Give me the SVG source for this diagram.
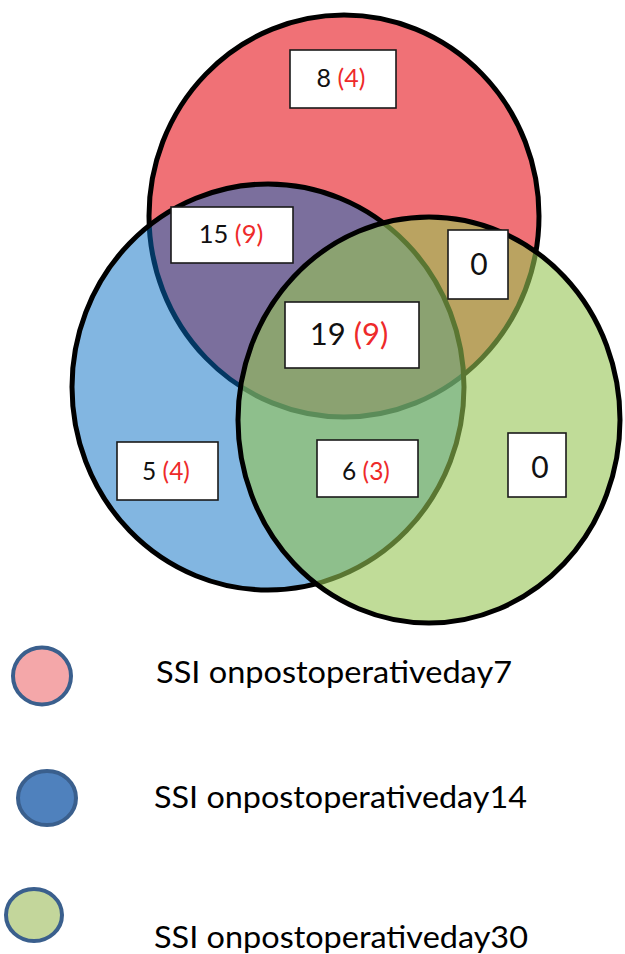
<svg xmlns="http://www.w3.org/2000/svg" width="625" height="954" viewBox="0 0 625 954">
  <style>
    .set { stroke: #000; stroke-width: 5; }
    .box { fill: #fff; stroke: #1a1a1a; stroke-width: 1.6; }
    .num { font-family: Lato, "Liberation Sans", sans-serif; fill: #111; text-anchor: middle; }
    .sub { fill: #ee2a2a; }
    .key { stroke: #3a5f8d; stroke-width: 4; }
    .lbl { font-family: Lato, "Liberation Sans", sans-serif; font-size: 31px; fill: #000; }
  </style>
  <rect width="625" height="954" fill="#fff"/>

  <!-- three overlapping sets, drawn bottom to top -->
  <g id="set-day7">
    <ellipse class="set" cx="344" cy="216" rx="195" ry="201" fill="#f07176"/>
  </g>
  <g id="set-day14">
    <ellipse class="set" cx="268" cy="387" rx="196" ry="203" fill="#056dc3" fill-opacity="0.5"/>
  </g>
  <g id="set-day30">
    <ellipse class="set" cx="429" cy="420" rx="191" ry="203" fill="#96c553" fill-opacity="0.6"/>
  </g>

  <!-- region counts -->
  <g id="only-day7">
    <rect class="box" x="290" y="50" width="106" height="58"/>
    <text class="num" x="341" y="87" font-size="25">8 <tspan class="sub">(4)</tspan></text>
  </g>
  <g id="day7-day14">
    <rect class="box" x="171" y="207" width="122" height="56"/>
    <text class="num" x="231" y="243" font-size="25.5">15 <tspan class="sub">(9)</tspan></text>
  </g>
  <g id="day7-day30">
    <rect class="box" x="448" y="230" width="60" height="69"/>
    <text class="num" x="479" y="275" font-size="30">0</text>
  </g>
  <g id="all-three">
    <rect class="box" x="285" y="302" width="134" height="66"/>
    <text class="num" x="349" y="345" font-size="31">19 <tspan class="sub">(9)</tspan></text>
  </g>
  <g id="only-day14">
    <rect class="box" x="117" y="442" width="101" height="58"/>
    <text class="num" x="166" y="480" font-size="24.5">5 <tspan class="sub">(4)</tspan></text>
  </g>
  <g id="day14-day30">
    <rect class="box" x="317" y="440" width="101" height="57"/>
    <text class="num" x="366" y="480" font-size="24.5">6 <tspan class="sub">(3)</tspan></text>
  </g>
  <g id="only-day30">
    <rect class="box" x="508" y="433" width="58" height="64"/>
    <text class="num" x="540" y="478" font-size="30">0</text>
  </g>

  <!-- legend -->
  <g id="legend-day7">
    <ellipse class="key" cx="42" cy="676" rx="29" ry="28.5" fill="#f4a7a9"/>
    <text class="lbl" x="156" y="683" textLength="356" lengthAdjust="spacingAndGlyphs">SSI onpostoperativeday7</text>
  </g>
  <g id="legend-day14">
    <ellipse class="key" cx="47" cy="798" rx="29" ry="27" fill="#4f81bd"/>
    <text class="lbl" x="154" y="808" textLength="373" lengthAdjust="spacingAndGlyphs">SSI onpostoperativeday14</text>
  </g>
  <g id="legend-day30">
    <ellipse class="key" cx="34" cy="915" rx="28" ry="26" fill="#c3d69b"/>
    <text class="lbl" x="154" y="948" textLength="374" lengthAdjust="spacingAndGlyphs">SSI onpostoperativeday30</text>
  </g>
</svg>
